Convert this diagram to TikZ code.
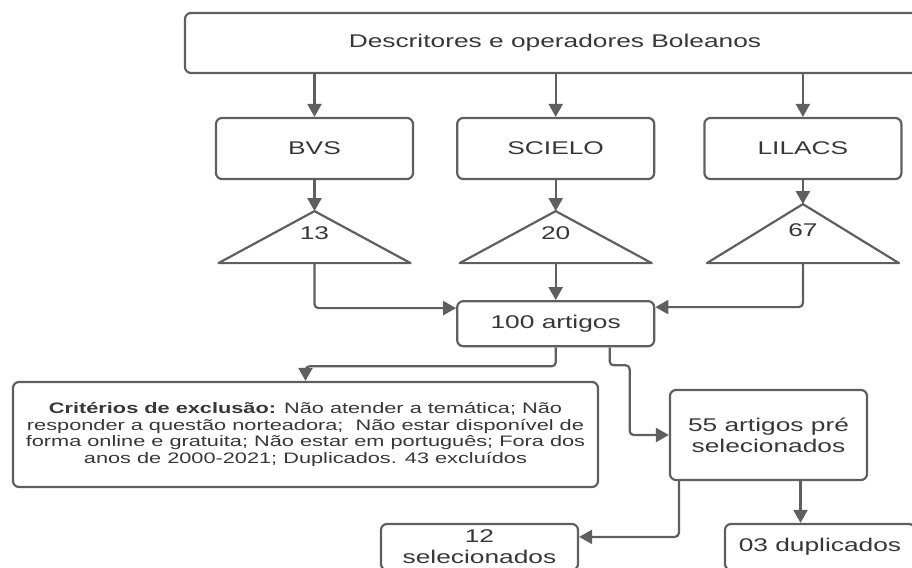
\documentclass[tikz,border=0pt]{standalone}
\usepackage{fontspec}
\setmainfont{Liberation Sans}[FakeStretch=1.43]
\usetikzlibrary{arrows.meta,positioning}
\definecolor{cinza}{RGB}{95,95,95}
\definecolor{texto}{RGB}{55,55,55}
\tikzset{
  bloco/.style={rectangle, draw=cinza, line width=1.1pt, rounded corners=3pt, text=texto, align=center, inner sep=2pt, font=\fontsize{9.2}{10.4}\selectfont},
  fonte/.style={bloco, minimum width=98.5pt, minimum height=30.5pt},
  caixa/.style={bloco, minimum width=98.5pt, minimum height=23pt},
  crit/.style={bloco, minimum width=292.5pt, minimum height=52.5pt, font=\fontsize{7.6}{8.4}\selectfont},
  tri/.style={draw=cinza, line width=1.1pt, line join=round},
  num/.style={text=texto, inner sep=0pt, font=\fontsize{9.2}{10.4}\selectfont},
  line/.style={draw=cinza, line width=1.1pt, rounded corners=2pt, -{Triangle[length=6.5pt,width=7pt]}},
}
\begin{document}
\begin{tikzpicture}[x=0.5pt,y=-0.5pt]
  \useasboundingbox (0,0) rectangle (912,568);

  \node[bloco, minimum width=370pt, minimum height=30pt] (desc) at (555,43) {Descritores e operadores Boleanos};

  \node[fonte] (bvs) at (314.5,148.5) {BVS};
  \node[fonte, right=21pt of bvs] (scielo) {SCIELO};
  \node[fonte, right=24pt of scielo] (lilacs) {LILACS};

  % triangulos com o numero de artigos
  \coordinate (t1top) at ([yshift=-15.5pt]bvs.south);
  \coordinate (t1bot) at ([yshift=-26pt]t1top);
  \draw[tri] (t1top) -- ++(-96,52) -- ++(192,0) -- cycle;
  \node[num] (n1) at ([yshift=-11pt]t1top) {13};

  \coordinate (t2top) at ([yshift=-15.5pt]scielo.south);
  \coordinate (t2bot) at ([yshift=-26pt]t2top);
  \draw[tri] (t2top) -- ++(-96,52) -- ++(192,0) -- cycle;
  \node[num] (n2) at ([yshift=-11pt]t2top) {20};

  \coordinate (t3top) at ([yshift=-12pt]lilacs.south);
  \coordinate (t3bot) at ([yshift=-29.5pt]t3top);
  \draw[tri] (t3top) -- ++(-96,59) -- ++(192,0) -- cycle;
  \node[num] (n3) at ([yshift=-13pt]t3top) {67};

  \node[caixa, minimum height=22.5pt, below=18.5pt of t2bot] (art) {100 artigos};

  \node[crit] (excl) at (305.5,434.5) {\textbf{Critérios de exclusão:} Não atender a temática; Não\\responder a questão norteadora;~ Não estar disponível de\\forma online e gratuita; Não estar em português; Fora dos\\anos de 2000-2021; Duplicados. 43 excluídos};
  \node[caixa, minimum height=45pt] (pre) at (768.5,435) {55 artigos pré\\selecionados};
  \node[caixa] (sel) at (479.5,547) {12\\selecionados};
  \node[caixa, minimum width=95pt] (dup) at (820,547) {03 duplicados};

  \begin{scope}[every path/.style=line]
    \path (desc.south -| bvs) -- (bvs);
    \path (desc.south -| scielo) -- (scielo);
    \path (desc.south -| lilacs) -- (lilacs);

    \path (bvs) -- (t1top);
    \path (scielo) -- (t2top);
    \path (lilacs) -- (t3top);

    \path (t1bot) |- ([yshift=-4pt]art.north west);
    \path (t2bot) -- (art);
    \path (t3bot) |- ([yshift=-3.5pt]art.north east);

    \path (art.south) -- ++(0,19) -| (excl.north);
    \path ([xshift=27pt]art.south) |- ++(20,18) |- (pre.west);

    \path ([xshift=5pt]pre.south west) |- ([yshift=-7pt]sel.north east);
    \path ([xshift=16pt]pre.south) -- ([xshift=16pt]pre.south |- dup.north);
  \end{scope}
\end{tikzpicture}
\end{document}
